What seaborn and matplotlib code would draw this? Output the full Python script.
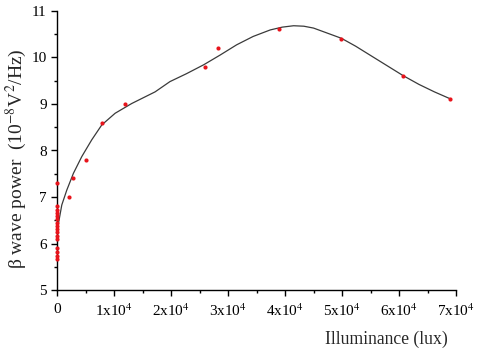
import numpy as np
import pandas as pd
import matplotlib
matplotlib.use("Agg")
import matplotlib.pyplot as plt
import seaborn as sns
from matplotlib.ticker import MultipleLocator, FixedLocator

# measured points
lux = [0, 0, 0, 0, 0, 0, 0, 0, 0, 0, 0, 0, 0, 0, 0, 0,
       2000, 2800, 5000, 7800, 12000, 26000, 28200, 38900, 49900, 60700, 69000]
power = [7.3, 6.8, 6.73, 6.66, 6.59, 6.52, 6.45, 6.38, 6.31, 6.24, 6.17, 6.1,
         5.9, 5.82, 5.74, 5.66, 7.0, 7.4, 7.8, 8.6, 9.0, 9.8, 10.2, 10.6, 10.4, 9.6, 9.1]

# fitted curve
fit_lux = [0, 230, 820, 1700, 2860, 4330, 6080, 7840, 10180, 13100, 17200, 19800,
           22700, 25700, 28600, 31500, 34400, 37400, 39500, 41500, 43300, 45000,
           47900, 49900, 52400, 54900, 57800, 60700, 63500, 66200, 69000]
fit_power = [6.1, 6.43, 6.83, 7.15, 7.51, 7.87, 8.23, 8.55, 8.80, 9.01, 9.26, 9.48,
             9.65, 9.84, 10.05, 10.27, 10.45, 10.59, 10.65, 10.68, 10.67, 10.63,
             10.5, 10.41, 10.24, 10.05, 9.83, 9.61, 9.42, 9.26, 9.11]

pts = pd.DataFrame({"lux": lux, "power": power})
fit = pd.DataFrame({"lux": fit_lux, "power": fit_power})

sns.set_style("ticks")
plt.rcParams["font.family"] = ["Liberation Serif", "DejaVu Serif"]
plt.rcParams["mathtext.fontset"] = "stix"

fig, ax = plt.subplots(figsize=(4.8, 3.5), dpi=100)
fig.subplots_adjust(left=0.119, right=0.95, bottom=0.171, top=0.969)

sns.lineplot(data=fit, x="lux", y="power", color="#3a3a3a", linewidth=0.9, ax=ax)
sns.scatterplot(data=pts, x="lux", y="power", color="#e8141c", s=9, linewidth=0,
                ax=ax, zorder=3, clip_on=False)

ax.set_xlim(0, 70000)
ax.set_ylim(5, 11)
ax.xaxis.set_major_locator(FixedLocator(np.arange(0, 70001, 10000)))
ax.xaxis.set_minor_locator(MultipleLocator(5000))
ax.yaxis.set_major_locator(MultipleLocator(1))
ax.yaxis.set_minor_locator(MultipleLocator(0.5))
ax.set_xticklabels(["0"] + [f"{i}x10$^4$" for i in range(1, 8)])

sns.despine(ax=ax)
for s in ["left", "bottom"]:
    ax.spines[s].set_color("black")
    ax.spines[s].set_linewidth(1.0)
ax.tick_params(axis="x", which="major", pad=5)
ax.tick_params(axis="both", which="major", direction="out", length=4, width=1,
               labelsize=11, colors="black")
ax.tick_params(axis="both", which="minor", direction="out", length=2.5, width=1,
               colors="black")

ax.set_xlabel("Illuminance (lux)", fontsize=12.7)
ax.xaxis.set_label_coords(0.826, -0.145)
ax.set_ylabel("β wave power  (10$^{-8}$V$^2$/Hz)", fontsize=14)
ax.yaxis.set_label_coords(-0.07, 0.47)

fig.savefig("out.png", dpi=100)
